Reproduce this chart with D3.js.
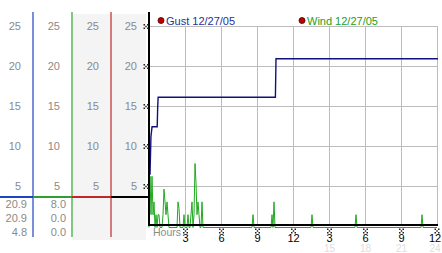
<!DOCTYPE html>
<html>
<head>
<meta charset="utf-8">
<script src="https://cdn.jsdelivr.net/npm/d3@7"></script>
<style>
  body { margin: 0; background: #fff; }
  svg { display: block; font-family: "Liberation Sans", Arial, sans-serif; }
</style>
</head>
<body>
<svg id="chart" width="442" height="253"></svg>
<script>
// tick values and labels
var yTicks = [5, 10, 15, 20, 25];
var xTicks = [3, 6, 9, 12, 15, 18, 21, 24];
var xLabels = ['3', '6', '9', '12', '3', '6', '9', '12'];
var faintTicks = [15, 18, 21, 24];

// gust trace: [hour, mph]
var gust = [[0, 6.4], [0.08, 11.2], [0.17, 12.4], [0.6, 12.4], [0.64, 14.8], [0.68, 16.1],
  [10.45, 16.1], [10.5, 20.9], [24, 20.9]];

// wind readings: [minute, mph]
var wind = [[0, 0], [5, 6.4], [10, 1.6], [15, 6.4], [20, 1.6], [25, 3.2], [30, 0], [35, 1.6], [40, 0],
  [45, 1.6], [50, 1.6], [55, 0], [65, 0], [70, 1.6], [75, 4.8], [80, 3.2], [85, 1.6], [90, 3.2],
  [95, 1.6], [100, 0], [140, 0], [145, 3.2], [150, 2.4], [155, 0], [170, 0], [175, 1.6], [180, 0],
  [190, 0], [195, 1.6], [200, 0], [205, 0], [210, 1.6], [215, 3.2], [220, 0], [225, 1.6], [230, 8.0],
  [235, 5.6], [240, 1.6], [245, 3.2], [250, 1.6], [255, 0], [260, 0], [265, 3.2], [270, 0],
  [515, 0], [520, 1.6], [525, 0], [610, 0], [615, 1.6], [620, 0], [625, 3.2], [630, 0],
  [810, 0], [815, 1.6], [820, 0], [1030, 0], [1035, 1.6], [1040, 0], [1360, 0], [1365, 1.6],
  [1370, 0], [1440, 0]];

// readouts under the left columns
var gustReadout = ['20.9', '20.9', '4.8'];
var windReadout = ['8.0', '0.0', '0.0'];

var svg = d3.select('#chart');

var x = d3.scaleLinear([0, 24], [149, 437]);
var y = d3.scaleLinear([0, 25], [226, 26]);

// left columns: dividers at these x positions
var cols = [0, 33, 72, 111, 149];
var colColors = ['#1f44c0', '#2ea02e', '#c0282a', '#000'];

// grey background for the two right columns
svg.append('rect')
  .attr('x', 73).attr('y', 14).attr('width', 73).attr('height', 226)
  .attr('fill', '#f4f4f4');

// column scale labels
cols.slice(1).forEach(function (cx) {
  svg.append('g')
    .selectAll('text')
    .data(yTicks)
    .join('text')
    .attr('x', cx - 12)
    .attr('y', d => y(d) + 4)
    .attr('text-anchor', 'end')
    .attr('font-size', 11)
    .attr('fill', '#8a8a8a')
    .text(d => d);
});

// column divider lines
svg.append('g')
  .selectAll('line')
  .data(cols.slice(1, 4))
  .join('line')
  .attr('x1', d => d).attr('x2', d => d)
  .attr('y1', 12).attr('y2', 237)
  .attr('stroke', (d, i) => colColors[i])
  .attr('stroke-width', 1.2);

// cursor line across columns
svg.append('g')
  .selectAll('line')
  .data(d3.range(4))
  .join('line')
  .attr('x1', i => cols[i]).attr('x2', i => cols[i + 1])
  .attr('y1', 197).attr('y2', 197)
  .attr('stroke', i => colColors[i])
  .attr('stroke-width', 2);

// readouts
[gustReadout, windReadout].forEach(function (vals, i) {
  svg.append('g')
    .selectAll('text')
    .data(vals)
    .join('text')
    .attr('x', cols[i + 1] - 6)
    .attr('y', (d, j) => 208 + j * 14)
    .attr('text-anchor', 'end')
    .attr('font-size', 11)
    .attr('fill', '#8a8a8a')
    .text(d => d);
});

// gridlines
svg.append('g')
  .selectAll('line')
  .data(yTicks)
  .join('line')
  .attr('x1', x(0)).attr('x2', x(24) + 1)
  .attr('y1', d => y(d) + 0.5).attr('y2', d => y(d) + 0.5)
  .attr('stroke', '#bcbcbc');

svg.append('g')
  .selectAll('line')
  .data(xTicks)
  .join('line')
  .attr('x1', d => x(d) + 0.5).attr('x2', d => x(d) + 0.5)
  .attr('y1', y(25)).attr('y2', y(0))
  .attr('stroke', '#bcbcbc');

// wind trace
svg.append('path')
  .datum(wind)
  .attr('fill', 'none')
  .attr('stroke', '#22a822')
  .attr('stroke-width', 1)
  .attr('d', d3.line().x(d => x(d[0] / 60)).y(d => y(d[1]) + 1.5));

// bottom axis
svg.append('line')
  .attr('x1', x(0)).attr('x2', x(24) + 1)
  .attr('y1', 225).attr('y2', 225)
  .attr('stroke', '#000').attr('stroke-width', 2);

// gust trace
svg.append('path')
  .datum(gust)
  .attr('fill', 'none')
  .attr('stroke', '#10107e')
  .attr('stroke-width', 1.4)
  .attr('d', d3.line().x(d => x(d[0]) + 1).y(d => y(d[1])));

// left axis
svg.append('line')
  .attr('x1', 149).attr('x2', 149)
  .attr('y1', 12).attr('y2', 226)
  .attr('stroke', '#000').attr('stroke-width', 2);

// tiny tick markers
var mark = 'M-2.5,-2.5h1.5v1.5h-1.5z M1,-2.5h1.5v1.5h-1.5z M-0.75,-0.75h1.5v1.5h-1.5z M-2.5,1h1.5v1.5h-1.5z M1,1h1.5v1.5h-1.5z';
svg.append('g')
  .selectAll('path')
  .data(yTicks)
  .join('path')
  .attr('transform', d => `translate(146,${y(d) + 0.5})`)
  .attr('d', mark).attr('fill', '#222');

svg.append('g')
  .selectAll('path')
  .data(xTicks)
  .join('path')
  .attr('transform', d => `translate(${Math.min(x(d) + 0.5, 437)},231)`)
  .attr('d', mark).attr('fill', '#222');

// x labels
svg.append('g')
  .selectAll('text')
  .data(xTicks)
  .join('text')
  .attr('x', d => Math.min(x(d) + 0.5, 435))
  .attr('y', 242)
  .attr('text-anchor', 'middle')
  .attr('font-size', 11)
  .attr('fill', '#000')
  .text((d, i) => xLabels[i]);

svg.append('g')
  .selectAll('text')
  .data(faintTicks)
  .join('text')
  .attr('x', d => Math.min(x(d) + 0.5, 435))
  .attr('y', 252)
  .attr('text-anchor', 'middle')
  .attr('font-size', 10)
  .attr('fill', '#dedede')
  .text(d => d);

svg.append('text')
  .attr('x', 153).attr('y', 236)
  .attr('font-size', 10.5)
  .attr('fill', '#8a8a8a')
  .text('Hours');

// legend
var legend = [['Gust 12/27/05', '#1f2f9a', 161], ['Wind 12/27/05', '#22a022', 302]];
legend.forEach(function (l) {
  svg.append('circle')
    .attr('cx', l[2]).attr('cy', 20.5).attr('r', 3)
    .attr('fill', '#c00000').attr('stroke', '#400').attr('stroke-width', 0.8);
  svg.append('text')
    .attr('x', l[2] + 5).attr('y', 24.5)
    .attr('font-size', 11)
    .attr('fill', l[1])
    .text(l[0]);
});
</script>
</body>
</html>
